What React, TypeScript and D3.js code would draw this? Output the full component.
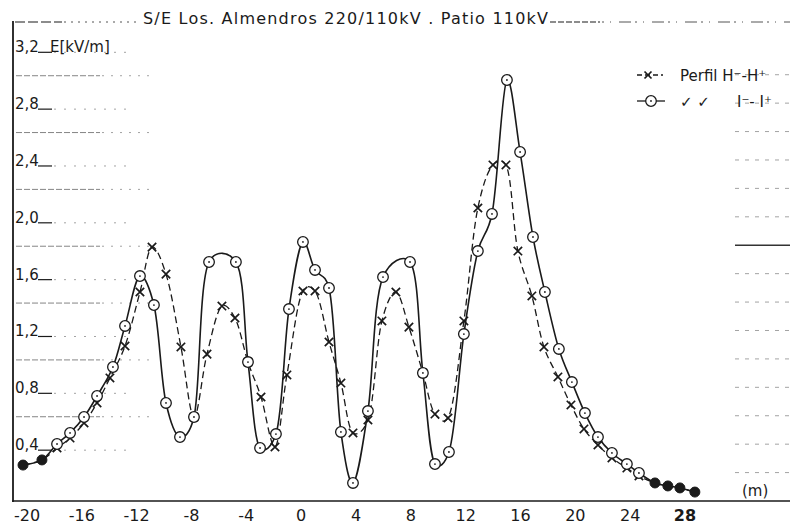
import React from "react";
import * as d3 from "d3";

// Perfil I- - I+ (solid line, circles)
const solidX = [-20.29, -18.91, -17.81, -16.86, -15.84, -14.89, -13.73, -12.85, -11.76, -10.74, -9.86, -8.84, -7.82, -6.72, -4.76, -3.88, -3.0, -1.84, -0.89, 0.13, 1.01, 2.03, 2.9, 3.78, 4.87, 5.97, 7.94, 8.88, 9.76, 10.78, 11.87, 12.89, 13.92, 15.01, 15.97, 16.91, 17.78, 18.8, 19.75, 20.7, 21.65, 22.67, 23.76, 24.64, 25.81, 26.75, 27.63, 28.72];
const solidY = [0.253, 0.289, 0.401, 0.479, 0.591, 0.739, 0.943, 1.232, 1.583, 1.379, 0.69, 0.45, 0.591, 1.682, 1.682, 0.978, 0.373, 0.471, 1.351, 1.823, 1.626, 1.499, 0.486, 0.127, 0.633, 1.576, 1.682, 0.901, 0.26, 0.345, 1.175, 1.759, 2.02, 2.963, 2.456, 1.858, 1.471, 1.07, 0.837, 0.619, 0.45, 0.338, 0.26, 0.197, 0.127, 0.106, 0.092, 0.063];

// Perfil H- - H+ (dashed line, crosses)
const dashedX = [-20.29, -18.91, -17.81, -16.86, -15.84, -14.89, -13.95, -12.85, -11.76, -10.88, -9.86, -8.77, -7.82, -6.87, -5.78, -4.83, -3.88, -2.93, -1.91, -1.04, 0.13, 1.01, 2.03, 2.9, 3.78, 4.87, 5.89, 6.91, 7.86, 8.88, 9.76, 10.71, 11.87, 12.89, 13.99, 14.94, 15.81, 16.83, 17.71, 18.73, 19.68, 20.63, 21.65, 22.67, 23.76, 24.64, 25.81, 26.75, 27.63, 28.72];
const dashedY = [0.253, 0.289, 0.373, 0.443, 0.549, 0.69, 0.866, 1.091, 1.471, 1.787, 1.597, 1.084, 0.591, 1.034, 1.372, 1.288, 0.978, 0.732, 0.38, 0.887, 1.478, 1.478, 1.119, 0.83, 0.479, 0.57, 1.267, 1.471, 1.224, 0.901, 0.612, 0.584, 1.267, 2.062, 2.365, 2.365, 1.759, 1.443, 1.084, 0.873, 0.676, 0.507, 0.394, 0.303, 0.232, 0.176, 0.127, 0.106, 0.092, 0.063];

// points where both profiles coincide (drawn filled)
const filledX = [-20.29, -18.91, 25.81, 26.75, 27.63, 28.72];
const filledY = [0.253, 0.289, 0.127, 0.106, 0.092, 0.063];

const X_TICKS = [-20, -16, -12, -8, -4, 0, 4, 8, 12, 16, 20, 24, 28];
const Y_TICKS = [0.4, 0.8, 1.2, 1.6, 2.0, 2.4, 2.8, 3.2];
const Y_TICK_LABELS = ["0,4", "0,8", "1,2", "1,6", "2,0", "2,4", "2,8", "3,2"];
const Y_MID = [0.6, 1.0, 1.4, 1.8, 2.2, 2.6, 3.0];
const Y_RIGHT = [0.2, 0.4, 0.6, 0.8, 1.0, 1.2, 1.4, 1.6, 1.8, 2.0, 2.2, 2.4, 2.6, 2.8, 3.0];

const TITLE = "S/E Los. Almendros  220/110kV .  Patio 110kV";
const Y_LABEL = "E[kV/m]";
const X_LABEL = "(m)";
const LEGEND_H = "Perfil H⁻-H⁺";
const LEGEND_I_DITTO = "✓  ✓";
const LEGEND_I = "I⁻- I⁺";

const INK = "#1a1a1a";
const FONT = "'DejaVu Sans', 'Liberation Sans', sans-serif";

export default function App() {
  const x = d3.scaleLinear().domain([-20, 28]).range([27, 685]);
  const y = d3.scaleLinear().domain([0, 3.2]).range([501, 46.3]);

  const solidPts: [number, number][] = solidX.map((v, i) => [v, solidY[i]]);
  const dashedPts: [number, number][] = dashedX.map((v, i) => [v, dashedY[i]]);
  const line = d3
    .line<[number, number]>()
    .x((d) => x(d[0]))
    .y((d) => y(d[1]))
    .curve(d3.curveCatmullRom.alpha(0.25));

  const isFilled = (v: number) => filledX.some((f) => Math.abs(f - v) < 1e-6);

  const cross = (cx: number, cy: number, s: number, key: any) => (
    <path
      key={key}
      d={`M${cx - s},${cy - s}L${cx + s},${cy + s}M${cx - s},${cy + s}L${cx + s},${cy - s}`}
      stroke={INK}
      strokeWidth={1.7}
      fill="none"
    />
  );
  const ring = (cx: number, cy: number, key: any) => (
    <g key={key}>
      <circle cx={cx} cy={cy} r={5.3} fill="#fff" stroke={INK} strokeWidth={1.3} />
      <circle cx={cx} cy={cy} r={0.9} fill={INK} />
    </g>
  );

  return (
    <svg
      width={793}
      height={527}
      viewBox="0 0 793 527"
      style={{ position: "absolute", left: 0, top: 0, background: "#fff" }}
      fontFamily={FONT}
    >
      <rect x={0} y={0} width={793} height={527} fill="#fff" />

      {/* top frame dashes + title */}
      <line x1={15} x2={62} y1={22} y2={22} stroke={INK} strokeWidth={1.2} strokeDasharray="10 3" />
      <line x1={64} x2={140} y1={22} y2={22} stroke="#555" strokeWidth={1} strokeDasharray="2 5" />
      <text x={143} y={24} fontSize={16} fill={INK} textLength={405} lengthAdjust="spacing">
        {TITLE}
      </text>
      <line x1={550} x2={600} y1={22} y2={22} stroke={INK} strokeWidth={1.1} strokeDasharray="6 2" />
      <line x1={602} x2={790} y1={22} y2={22} stroke="#555" strokeWidth={1} strokeDasharray="2 6 1 8 12 4" />

      {/* faint grid pieces */}
      {Y_MID.map((v) => (
        <g key={"m" + v}>
          <line x1={16} x2={100} y1={y(v) + 1} y2={y(v) + 1} stroke="#777" strokeWidth={0.9} strokeDasharray="6 2" />
          <line x1={102} x2={150} y1={y(v) + 1} y2={y(v) + 1} stroke="#999" strokeWidth={0.9} strokeDasharray="2 7" />
        </g>
      ))}
      {Y_RIGHT.map((v) => (
        <line
          key={"r" + v}
          x1={735}
          x2={790}
          y1={y(v)}
          y2={y(v)}
          stroke={Math.abs(v - 1.8) < 1e-6 ? "#333" : "#999"}
          strokeWidth={Math.abs(v - 1.8) < 1e-6 ? 1.4 : 0.9}
          strokeDasharray={Math.abs(v - 1.8) < 1e-6 ? "none" : "4 6"}
        />
      ))}

      {/* y tick labels */}
      {Y_TICKS.map((v, i) => (
        <g key={"y" + v}>
          <text x={15} y={y(v) + 6} fontSize={15} fill={INK}>
            {Y_TICK_LABELS[i]}
          </text>
          <line x1={38} x2={52} y1={y(v) + 6} y2={y(v) + 6} stroke={INK} strokeWidth={1.2} />
          <line x1={54} x2={130} y1={y(v) + 6} y2={y(v) + 6} stroke="#999" strokeWidth={0.9} strokeDasharray="2 8" />
        </g>
      ))}
      <text x={50} y={y(3.2) + 6} fontSize={15} fill={INK}>
        {Y_LABEL}
      </text>

      {/* axes */}
      <line x1={13} x2={13} y1={21} y2={502} stroke={INK} strokeWidth={1.8} />
      <line x1={12} x2={790} y1={501} y2={501} stroke={INK} strokeWidth={1.6} />

      {/* x tick labels */}
      {X_TICKS.map((v) => (
        <text
          key={"x" + v}
          x={x(v)}
          y={521}
          fontSize={16}
          textAnchor="middle"
          fill={INK}
          fontWeight={v === 28 ? "bold" : "normal"}
        >
          {String(v)}
        </text>
      ))}
      <text x={742} y={496} fontSize={15} fill={INK}>
        {X_LABEL}
      </text>

      {/* curves */}
      <path d={line(dashedPts) || ""} fill="none" stroke={INK} strokeWidth={1.3} strokeDasharray="7 4" />
      <path d={line(solidPts) || ""} fill="none" stroke={INK} strokeWidth={1.6} />

      {/* markers */}
      {dashedPts.map((p, i) => (isFilled(p[0]) ? null : cross(x(p[0]), y(p[1]), 4.2, "c" + i)))}
      {solidPts.map((p, i) => (isFilled(p[0]) ? null : ring(x(p[0]), y(p[1]), "o" + i)))}
      {filledX.map((v, i) => (
        <circle key={"f" + i} cx={x(v)} cy={y(filledY[i])} r={5} fill={INK} stroke={INK} />
      ))}

      {/* legend */}
      <line x1={637} x2={663} y1={75} y2={75} stroke={INK} strokeWidth={1.3} strokeDasharray="5 3" />
      {cross(648, 75, 3.5, "lg1")}
      <text x={680} y={81} fontSize={15} fill={INK}>
        {LEGEND_H}
      </text>
      <line x1={637} x2={665} y1={101} y2={101} stroke={INK} strokeWidth={1.3} />
      {ring(651, 101, "lg2")}
      <text x={680} y={107} fontSize={15} fill={INK}>
        {LEGEND_I_DITTO}
      </text>
      <text x={737} y={107} fontSize={15} fill={INK}>
        {LEGEND_I}
      </text>
    </svg>
  );
}
